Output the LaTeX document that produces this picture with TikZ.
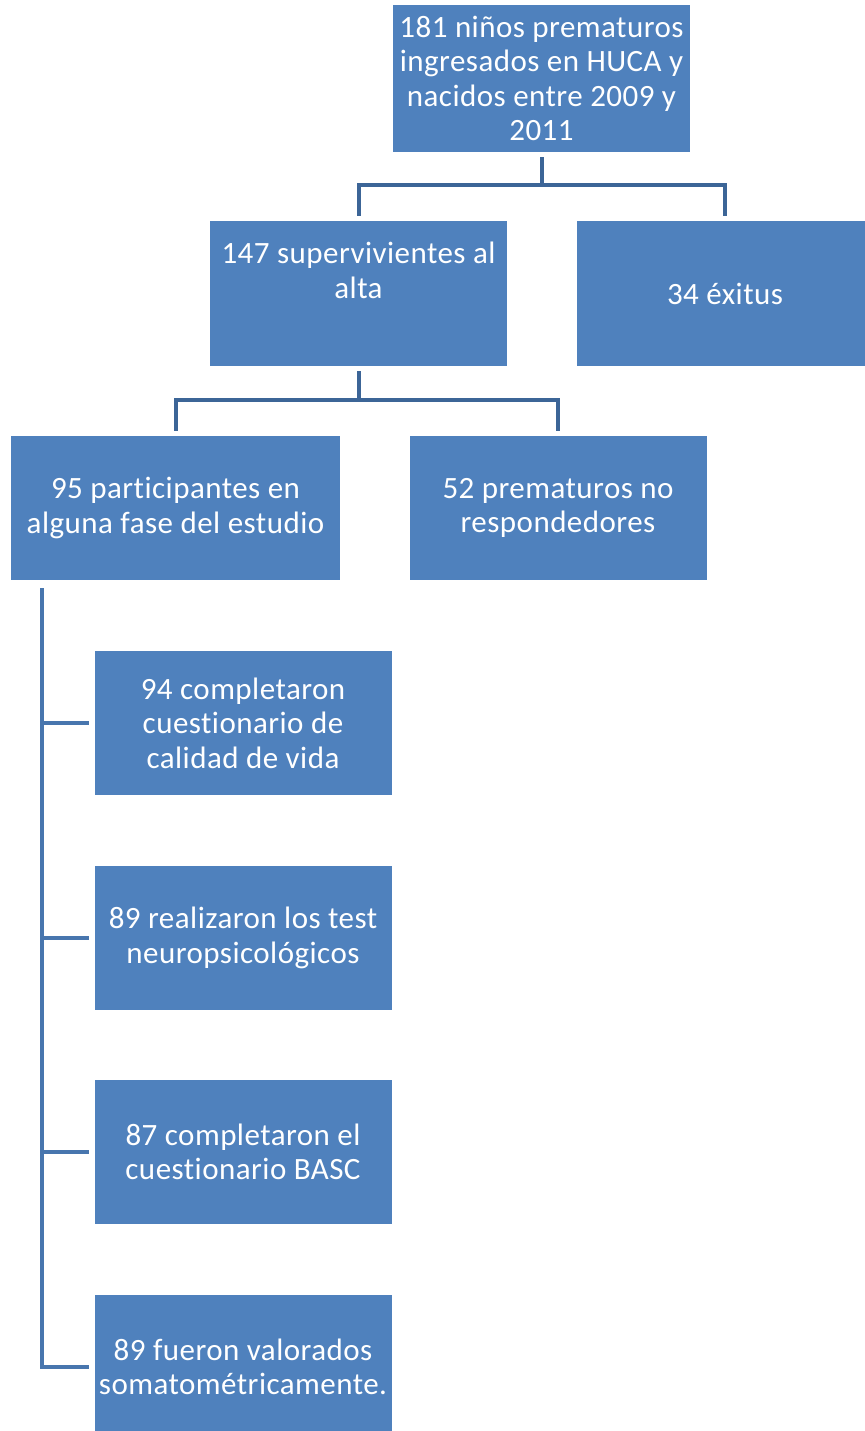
\documentclass[tikz,border=0pt]{standalone}
\usepackage{fontspec}
\setmainfont{Carlito}[Ligatures=NoCommon,LetterSpace=1.5]
\usepackage{tikz}
\usetikzlibrary{positioning}
\definecolor{azul}{RGB}{79,129,189}
\definecolor{trazo}{RGB}{60,101,151}
\definecolor{trazob}{RGB}{72,118,174}

\begin{document}
\begin{tikzpicture}[x=1pt,y=-1pt,
  caja/.style={fill=azul,text=white,align=center,inner sep=0pt,
    minimum width=297pt,minimum height=145pt,
    font=\fontsize{31}{34.5}\selectfont},
  linea/.style={draw=trazo,line width=4pt,shorten <=5pt,shorten >=5pt}]
\useasboundingbox(0,0)rectangle(864,1431);
% cajas
\node[caja,minimum height=147pt](nin) at (541.5,78.5){181 niños prematuros\\ingresados en HUCA y\\nacidos entre 2009 y\\2011};
\node[caja](sup) at (358.5,293.5){147 supervivientes al\\alta\\[12pt]\mbox{}};
\node[caja](exi) at (725,293.5){34 éxitus};
\node[caja,minimum width=329pt,minimum height=144pt](par) at (175.5,508){95 participantes en\\alguna fase del estudio};
\node[caja,minimum height=144pt](nor) at (558,508){52 prematuros no\\respondedores};
\node[caja,minimum height=144pt](cal) at (243,723){94 completaron\\cuestionario de\\calidad de vida};
\node[caja,minimum height=144pt](neu) at (243,938){89 realizaron los test\\neuropsicológicos};
\node[caja,minimum height=144pt](bas) at (243,1152){87 completaron el\\cuestionario BASC};
\node[caja,minimum height=144pt](som) at (243,1367){89 fueron valorados\\somatométricamente.};
% conectores
\coordinate(b1) at (541.5,185);
\coordinate(b2) at (358.5,400);
\draw[linea,shorten >=0pt](nin.south)--(b1);
\draw[linea](sup.north)|-(b1)-|(exi.north);
\draw[linea,shorten >=0pt](sup.south)--(b2);
\draw[linea](par.north)|-(b2)-|(nor.north);
\coordinate(b3) at (42,582);
\draw[linea,draw=trazob,shorten <=6pt](b3)|-(som.west);
\foreach \c in {cal,neu,bas}
  \draw[linea,draw=trazob,shorten <=0pt](b3|-\c.west)--(\c.west);
\end{tikzpicture}
\end{document}
